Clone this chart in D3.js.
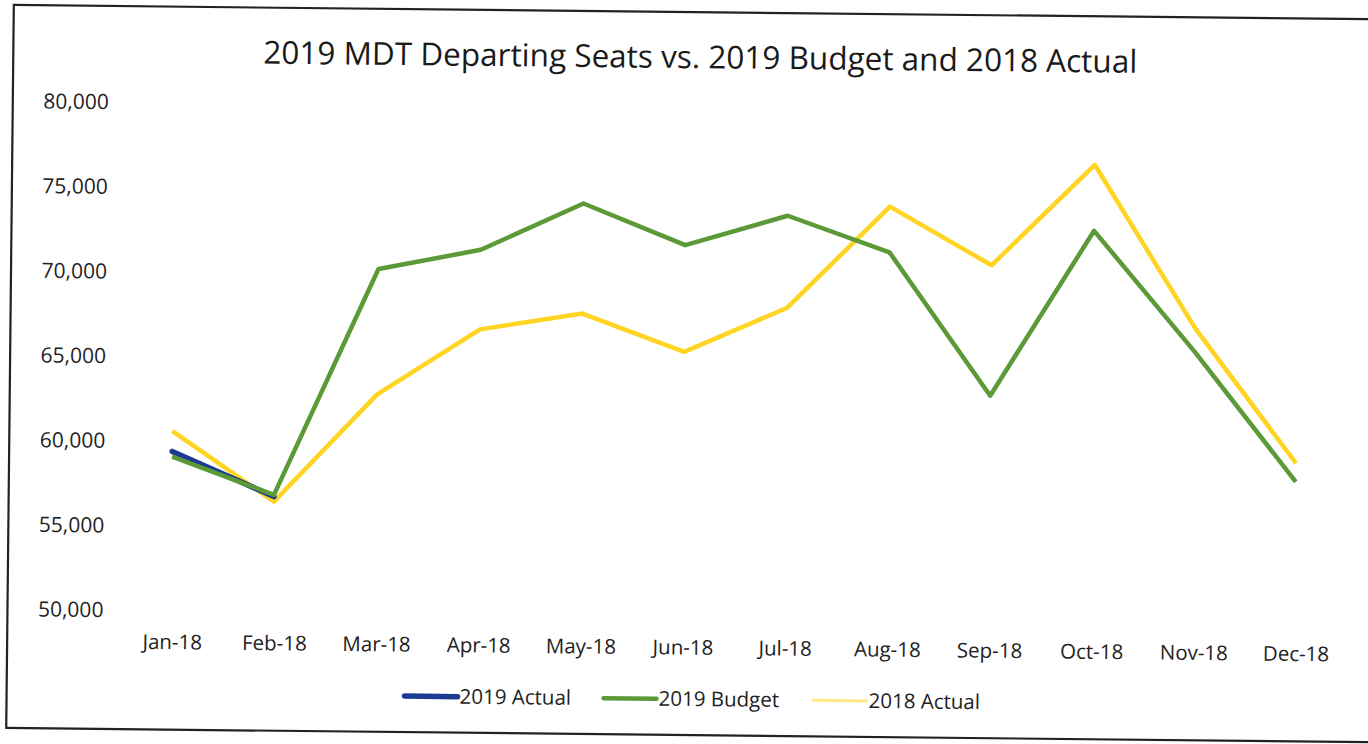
<!DOCTYPE html>
<html>
<head>
<meta charset="utf-8">
<script src="https://cdn.jsdelivr.net/npm/d3@7"></script>
<style>
  html, body { margin: 0; padding: 0; background: #fff; }
  svg { display: block; }
</style>
</head>
<body>
<svg id="chart" width="1368" height="744"></svg>
<script>
const months = ["Jan-18","Feb-18","Mar-18","Apr-18","May-18","Jun-18","Jul-18","Aug-18","Sep-18","Oct-18","Nov-18","Dec-18"];
const actual2019 = [59400, 56800];
const budget2019 = [59100, 56900, 70300, 71500, 74300, 71900, 73700, 71600, 63200, 73000, 65900, 58300];
const actual2018 = [60600, 56500, 62900, 66800, 67800, 65600, 68250, 74300, 70900, 76900, 67300, 59400];
const yTicks = [50000, 55000, 60000, 65000, 70000, 75000, 80000];
const seriesNames = ["2019 Actual", "2019 Budget", "2018 Actual"];
const titleText = "2019 MDT Departing Seats vs. 2019 Budget and 2018 Actual";

const W = 1368, H = 744;
const colors = {"2019 Actual": "#1c3b94", "2019 Budget": "#5c9a38", "2018 Actual": "#ffd422"};
const font = "'Open Sans', 'Noto Sans', sans-serif";

const svg = d3.select("#chart");
svg.append("rect").attr("width", W).attr("height", H).attr("fill", "#fff");

// scanned page is slightly rotated
const g = svg.append("g").attr("transform", "rotate(0.6, 684, 372)");

g.append("rect")
  .attr("x", 10).attr("y", 12).attr("width", 1420).attr("height", 723)
  .attr("fill", "none").attr("stroke", "#222").attr("stroke-width", 2.2);

g.append("text")
  .attr("x", 697).attr("y", 68)
  .attr("text-anchor", "middle")
  .attr("font-family", font).attr("font-size", 31.5)
  .attr("fill", "#1a1a1a")
  .text(titleText);

const x = d3.scaleBand().domain(months).range([122, 1348]);
const y = d3.scaleLinear().domain([50000, 80000]).range([616, 108]);

// Y axis (labels only)
const yAxis = d3.axisLeft(y).tickValues(yTicks).tickSize(0).tickPadding(0)
  .tickFormat(d3.format(","));
const yG = g.append("g").attr("transform", "translate(106,0)").call(yAxis);
yG.select(".domain").remove();
yG.selectAll("text").attr("font-family", font).attr("font-size", 21).attr("fill", "#222");

// X axis (labels only)
const xAxis = d3.axisBottom(x).tickSize(0).tickPadding(0);
const xG = g.append("g").attr("transform", "translate(2,640)").call(xAxis);
xG.select(".domain").remove();
xG.selectAll("text").attr("font-family", font).attr("font-size", 20.5).attr("fill", "#222");

const line = d3.line()
  .x((d, i) => x(months[i]) + x.bandwidth() / 2)
  .y(d => y(d));

g.append("path").datum(actual2018)
  .attr("d", line).attr("fill", "none")
  .attr("stroke", colors["2018 Actual"]).attr("stroke-width", 4.5)
  .attr("stroke-linejoin", "round");

g.append("path").datum(actual2019)
  .attr("d", line).attr("fill", "none")
  .attr("stroke", colors["2019 Actual"]).attr("stroke-width", 5.5)
  .attr("stroke-linejoin", "round").attr("stroke-linecap", "round");

g.append("path").datum(budget2019)
  .attr("d", line).attr("fill", "none")
  .attr("stroke", colors["2019 Budget"]).attr("stroke-width", 4.5)
  .attr("stroke-linejoin", "round");

// Legend
const legendX = [408, 607, 817];
const legendW = [5.5, 4.5, 3];
const legend = g.append("g").attr("transform", "translate(0,699)");
seriesNames.forEach((name, i) => {
  legend.append("line")
    .attr("x1", legendX[i]).attr("x2", legendX[i] + 53)
    .attr("y1", 0).attr("y2", 0)
    .attr("stroke", colors[name]).attr("stroke-width", legendW[i])
    .attr("stroke-linecap", "round")
    .attr("opacity", i === 2 ? 0.55 : 1);
  legend.append("text")
    .attr("x", legendX[i] + 55).attr("y", 7)
    .attr("font-family", font).attr("font-size", 20.5).attr("fill", "#222")
    .text(name);
});
</script>
</body>
</html>
